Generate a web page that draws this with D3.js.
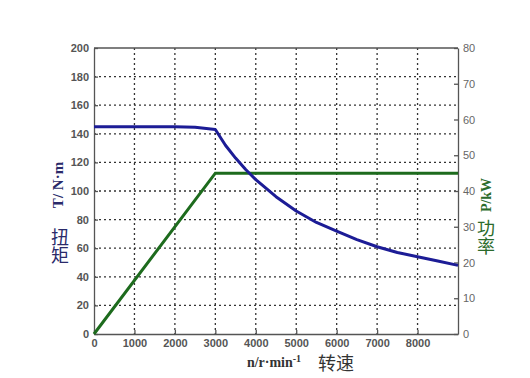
<!DOCTYPE html>
<html>
<head>
<meta charset="utf-8">
<script src="https://cdn.jsdelivr.net/npm/d3@7"></script>
<style>
  body { margin:0; background:#fff; }
  .tick text { font-family: Arial, 'Liberation Sans', sans-serif; font-weight:bold; font-size:11px; fill:#555; }
</style>
</head>
<body>
<div class="canvas"></div>
<script>
// ---- DATA ----
var speedTorque = [0, 1000, 2000, 2500, 3000, 3250, 3500, 3750, 4000, 4500, 5000, 5500, 6000, 6500, 7000, 7500, 8000, 8500, 9000];
var torque      = [145, 145, 145, 144.5, 143, 132, 123, 115, 108, 96, 86, 78, 72, 66, 61, 57, 54, 51, 48];
var speedPower  = [0, 3000, 9000];
var power       = [0, 45, 45];
var xTicks = [0, 1000, 2000, 3000, 4000, 5000, 6000, 7000, 8000];
var yTicksLeft = [0, 20, 40, 60, 80, 100, 120, 140, 160, 180, 200];
var yTicksRight = [0, 10, 20, 30, 40, 50, 60, 70, 80];

// ---- CONVENTIONS ----
var outerWidth = 530, outerHeight = 378;
var margin = {top:48, right:72, bottom:44, left:94};
var width = 458 - margin.left,
    height = 334 - margin.top;

var svg = d3.select('.canvas').append('svg')
    .attr('width', outerWidth)
    .attr('height', outerHeight);
var plot = svg.append('g')
    .attr('transform', 'translate(' + margin.left + ',' + margin.top + ')');

// ---- SCALES ----
var scaleX = d3.scaleLinear().domain([0, 9000]).range([0, width]);
var scaleY = d3.scaleLinear().domain([0, 200]).range([height, 0]);
var scaleY2 = d3.scaleLinear().domain([0, 80]).range([height, 0]);

// ---- GRID ----
plot.append('g').selectAll('line')
    .data(xTicks.slice(1))
    .enter().append('line')
    .attr('x1', function(d){ return scaleX(d); })
    .attr('x2', function(d){ return scaleX(d); })
    .attr('y1', 0).attr('y2', height)
    .style('stroke', '#333').style('stroke-width', 1.3).style('stroke-dasharray', '2,3');
plot.append('g').selectAll('line')
    .data(yTicksLeft.slice(1, -1))
    .enter().append('line')
    .attr('x1', 0).attr('x2', width)
    .attr('y1', function(d){ return scaleY(d); })
    .attr('y2', function(d){ return scaleY(d); })
    .style('stroke', '#333').style('stroke-width', 1.3).style('stroke-dasharray', '2,3');

// ---- AXES ----
var axisX = d3.axisBottom(scaleX).tickValues(xTicks).tickFormat(d3.format('d'))
    .tickSize(-4).tickPadding(5).tickSizeOuter(0);
var axisY = d3.axisLeft(scaleY).tickValues(yTicksLeft).tickFormat(d3.format('d'))
    .tickSize(-4).tickPadding(5).tickSizeOuter(0);
var axisY2 = d3.axisRight(scaleY2).tickValues(yTicksRight).tickFormat(d3.format('d'))
    .tickSize(-4).tickPadding(5).tickSizeOuter(0);

plot.append('g').attr('class', 'axis axis-x')
    .attr('transform', 'translate(0,' + height + ')')
    .call(axisX);
plot.append('g').attr('class', 'axis axis-y')
    .call(axisY);
plot.append('g').attr('class', 'axis axis-y2')
    .attr('transform', 'translate(' + width + ',0)')
    .call(axisY2);
plot.selectAll('.axis path, .axis line').style('stroke', '#555').style('stroke-width', 1.3);
plot.selectAll('.axis-y2 text').attr('fill', '#666').style('font-weight', 'normal').style('fill', '#666');

// frame top
plot.append('line').attr('x1', 0).attr('x2', width).attr('y1', 0).attr('y2', 0)
    .style('stroke', '#555').style('stroke-width', 1.3);

// ---- LINES ----
var torqueData = speedTorque.map(function(s, i){ return {key:s, value:torque[i]}; });
var powerData = speedPower.map(function(s, i){ return {key:s, value:power[i]}; });

var torqueLine = d3.line()
    .x(function(d){ return scaleX(d.key); })
    .y(function(d){ return scaleY(d.value); });
var powerLine = d3.line()
    .x(function(d){ return scaleX(d.key); })
    .y(function(d){ return scaleY2(d.value); });

plot.append('path').datum(powerData)
    .attr('d', powerLine)
    .style('fill', 'none').style('stroke', '#1d6b1d').style('stroke-width', 3);
plot.append('path').datum(torqueData)
    .attr('d', torqueLine)
    .style('fill', 'none').style('stroke', '#1c1c96').style('stroke-width', 3)
    .style('stroke-linejoin', 'round');

// ---- LABELS ----
svg.append('text')
    .attr('transform', 'translate(63,185) rotate(-90)')
    .attr('text-anchor', 'middle')
    .style('font-family', "'Liberation Serif', 'DejaVu Serif', serif")
    .style('font-weight', 'bold').style('font-size', '15px').style('fill', '#2a2a6a')
    .text('T/ N·m');
svg.append('text')
    .attr('x', 60).attr('y', 228)
    .style('writing-mode', 'vertical-rl')
    .style('font-family', "'Noto Sans CJK SC', sans-serif")
    .style('font-size', '18px').style('fill', '#2a2a6a')
    .text('扭矩');

svg.append('text')
    .attr('transform', 'translate(491,195) rotate(-90)')
    .attr('text-anchor', 'middle')
    .style('font-family', "'Liberation Serif', 'DejaVu Serif', serif")
    .style('font-weight', 'bold').style('font-size', '14px').style('fill', '#2b6b2b')
    .text('P/kW');
svg.append('text')
    .attr('x', 486).attr('y', 219)
    .style('writing-mode', 'vertical-rl')
    .style('font-family', "'Noto Sans CJK SC', sans-serif")
    .style('font-size', '18px').style('fill', '#2b6b2b')
    .text('功率');

var xl = svg.append('text')
    .attr('x', 274).attr('y', 367)
    .attr('text-anchor', 'middle')
    .style('font-family', "'Liberation Serif', 'DejaVu Serif', serif")
    .style('font-weight', 'bold').style('font-size', '14px').style('fill', '#333');
xl.append('tspan').text('n/r·min');
xl.append('tspan').attr('dy', -5).style('font-size', '10px').text('-1');
svg.append('text')
    .attr('x', 336).attr('y', 370)
    .attr('text-anchor', 'middle')
    .style('font-family', "'Noto Sans CJK SC', sans-serif")
    .style('font-size', '18px').style('fill', '#333')
    .text('转速');
</script>
</body>
</html>
